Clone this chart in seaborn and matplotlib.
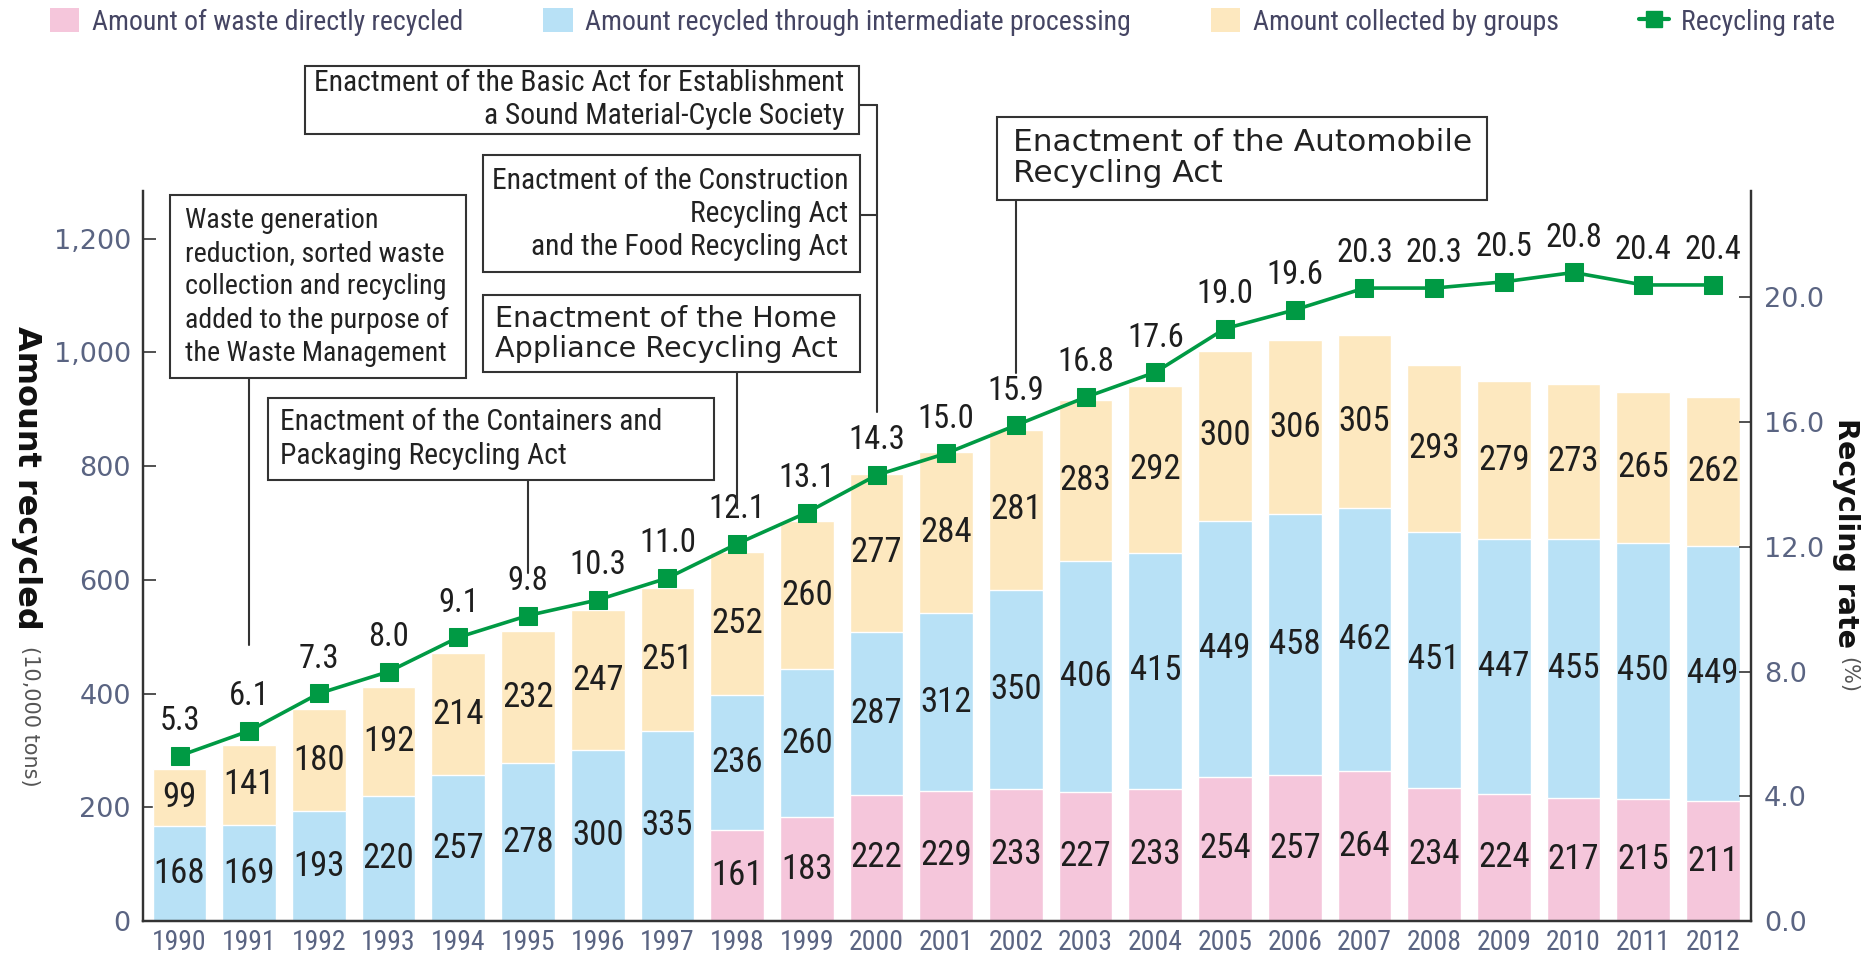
import numpy as np
import pandas as pd
import matplotlib
matplotlib.use("Agg")
import matplotlib.pyplot as plt
import matplotlib.transforms as mtransforms
from matplotlib import font_manager as fm
from matplotlib.patches import Patch, Rectangle
from matplotlib.lines import Line2D
import seaborn as sns

# --- data ---
years = [str(y) for y in range(1990, 2013)]
direct = [0, 0, 0, 0, 0, 0, 0, 0, 161, 183, 222, 229, 233, 227, 233, 254, 257, 264, 234, 224, 217, 215, 211]
intermediate = [168, 169, 193, 220, 257, 278, 300, 335, 236, 260, 287, 312, 350, 406, 415, 449, 458, 462, 451, 447, 455, 450, 449]
groups = [99, 141, 180, 192, 214, 232, 247, 251, 252, 260, 277, 284, 281, 283, 292, 300, 306, 305, 293, 279, 273, 265, 262]
rate = [5.3, 6.1, 7.3, 8.0, 9.1, 9.8, 10.3, 11.0, 12.1, 13.1, 14.3, 15.0, 15.9, 16.8, 17.6, 19.0, 19.6, 20.3, 20.3, 20.5, 20.8, 20.4, 20.4]

left_ticks = [0, 200, 400, 600, 800, 1000, 1200]
right_ticks = [0, 4, 8, 12, 16, 20]

PINK = "#f5c6db"
BLUE = "#b8e1f6"
BEIGE = "#fde8bf"
GREEN = "#009a44"
TICKC = "#5a6482"

sns.set_style("white")

names = {f.name for f in fm.fontManager.ttflist}
COND = None
for n in ["Roboto Condensed", "Liberation Sans Narrow", "Open Sans Condensed"]:
    if n in names:
        COND = n
        break
if COND is None:
    COND = "DejaVu Sans"
plt.rcParams["font.family"] = [COND, "DejaVu Sans"]
cond = dict(family=[COND, "DejaVu Sans"], stretch="condensed")

df = pd.DataFrame({"year": years, "direct": direct, "inter": intermediate, "groups": groups, "rate": rate})
df["lower2"] = df["direct"] + df["inter"]
df["total"] = df["lower2"] + df["groups"]
df["pos"] = np.arange(len(df))

fig = plt.figure(figsize=(18.73, 9.57), dpi=100)
ax = fig.add_axes([0.0765, 0.0375, 0.935 - 0.0765, 0.80 - 0.0375])

bw = 0.77
sns.barplot(data=df, x="year", y="total", color=BEIGE, width=bw, saturation=1, ax=ax)
sns.barplot(data=df, x="year", y="lower2", color=BLUE, width=bw, saturation=1, ax=ax)
sns.barplot(data=df, x="year", y="direct", color=PINK, width=bw, saturation=1, ax=ax)

# segment labels
for i, r in df.iterrows():
    segs = [(0, r["direct"]), (r["direct"], r["inter"]), (r["lower2"], r["groups"])]
    for base, h in segs:
        if h > 0:
            ax.text(i, base + h / 2, f"{int(h)}", ha="center", va="center",
                    fontsize=25, color="#1e1e1e", **cond)

ax.set_xlim(-0.52, len(years) - 1 + 0.55)
ax.set_ylim(0, 1283)
ax.set_yticks(left_ticks)
ax.set_yticklabels([f"{v:,}" for v in left_ticks], family="DejaVu Sans")
ax.set_xlabel("")
ax.set_ylabel("")
ax.tick_params(axis="y", direction="in", length=9, width=1.2, color="#333333",
               labelsize=19.5, labelcolor=TICKC, pad=9)
ax.tick_params(axis="x", length=0, labelsize=20, labelcolor=TICKC, pad=6)
for lab in ax.get_xticklabels():
    lab.set_fontstretch("condensed")

ax2 = ax.twinx()
sns.lineplot(data=df, x="pos", y="rate", color=GREEN, lw=2.6, marker="s",
             markersize=13, markeredgecolor=GREEN, ax=ax2)
for i, r in df.iterrows():
    ax2.annotate(f"{r['rate']:.1f}", (r["pos"], r["rate"]), xytext=(0, 25),
                 textcoords="offset points", ha="center", va="center",
                 fontsize=23.5, color="#1e1e1e", **cond)
ax2.set_ylim(0, 23.4)
ax2.set_yticks(right_ticks)
ax2.set_yticklabels([f"{v:.1f}" for v in right_ticks], family="DejaVu Sans")
ax2.set_ylabel("")
ax2.tick_params(axis="y", direction="in", length=9, width=1.2, color="#333333",
                labelsize=19.5, labelcolor=TICKC, pad=9)

for a in (ax, ax2):
    a.spines["top"].set_visible(False)
    for s in ("left", "right", "bottom"):
        a.spines[s].set_color("#333333")
        a.spines[s].set_linewidth(1.6)
ax.spines["bottom"].set_color("#111111")

# axis titles
fig.text(22 / 1568, 1 - 273 / 801, "Amount recycled", rotation=270, ha="center", va="top",
         fontsize=23, fontweight="bold", family="DejaVu Sans", color="#111111")
fig.text(25 / 1568, 1 - 541 / 801, "(10,000 tons)", rotation=270, ha="center", va="top",
         fontsize=15, color="#555555", family="DejaVu Sans")
fig.text(1545 / 1568, 1 - 350 / 801, "Recycling rate", rotation=270, ha="center", va="top",
         fontsize=20.5, fontweight="bold", family="DejaVu Sans", color="#111111")
fig.text(1547 / 1568, 1 - 550 / 801, "(%)", rotation=270, ha="center", va="top",
         fontsize=15, color="#555555", family="DejaVu Sans")

# legend
handles = [Patch(facecolor=PINK, edgecolor="none"), Patch(facecolor=BLUE, edgecolor="none"),
           Patch(facecolor=BEIGE, edgecolor="none"),
           Line2D([], [], color=GREEN, lw=3, marker="s", markersize=12)]
labels = ["Amount of waste directly recycled", "Amount recycled through intermediate processing",
          "Amount collected by groups", "Recycling rate"]
leg = fig.legend(handles, labels, ncol=4, loc="center", mode="expand",
                 bbox_to_anchor=(25 / 1873, 1 - 42 / 957, 1835 / 1873, 40 / 957),
                 frameon=False, handlelength=1.05, handleheight=0.95, handletextpad=0.45,
                 prop=dict(family=[COND, "DejaVu Sans"], stretch="condensed", size=20))
for t in leg.get_texts():
    t.set_color("#454563")

# annotation boxes (coordinates measured in the 1568x801 view)
def fx(x):
    return x / 1568

def fy(y):
    return 1 - y / 801

def box(l, t, r, b):
    fig.add_artist(Rectangle((fx(l), fy(b)), fx(r) - fx(l), fy(t) - fy(b), transform=fig.transFigure,
                             facecolor="white", edgecolor="#333333", lw=1.5, zorder=5))

def vline(idx, y0, y1):
    tr = mtransforms.blended_transform_factory(ax.transData, fig.transFigure)
    fig.add_artist(Line2D([idx, idx], [fy(y0), fy(y1)], transform=tr, color="#333333", lw=1.5, zorder=4))

def hline(x0, idx, y):
    tr = mtransforms.blended_transform_factory(ax.transData, fig.transFigure)
    x0d = ax.transData.inverted().transform(fig.transFigure.transform((fx(x0), 0)))[0]
    fig.add_artist(Line2D([x0d, idx], [fy(y), fy(y)], transform=tr, color="#333333", lw=1.5, zorder=4))

small = dict(fontsize=21.3, color="#222222", linespacing=1.24, zorder=6, **cond)

i2000 = years.index("2000")
box(255, 55, 719, 112)
fig.text(fx(707), fy(83.5), "Enactment of the Basic Act for Establishment\na Sound Material-Cycle Society",
         ha="right", va="center", multialignment="right", **small)
box(404, 130, 720, 228)
fig.text(fx(710), fy(179), "Enactment of the Construction\nRecycling Act\nand the Food Recycling Act",
         ha="right", va="center", multialignment="right", **small)
hline(719, i2000, 88)
hline(720, i2000, 180)
vline(i2000, 88, 345)

box(404, 247, 720, 311)
fig.text(fx(414), fy(279.5), "Enactment of the Home\nAppliance Recycling Act", ha="left", va="center",
         fontsize=20.6, color="#222222", linespacing=1.07, zorder=6, family="DejaVu Sans")
vline(years.index("1998"), 311, 425)

box(142, 163, 390, 316)
fig.text(fx(155), fy(240), "Waste generation\nreduction, sorted waste\ncollection and recycling\nadded to the purpose of\nthe Waste Management",
         ha="left", va="center", fontsize=20.2, color="#222222", linespacing=1.3, zorder=6, **cond)
vline(years.index("1991"), 316, 540)

box(224, 333, 598, 402)
fig.text(fx(234), fy(367.5), "Enactment of the Containers and\nPackaging Recycling Act", ha="left", va="center", **small)
vline(years.index("1995"), 402, 480)

box(835, 98, 1245, 167)
fig.text(fx(848), fy(132.5), "Enactment of the Automobile\nRecycling Act", ha="left", va="center",
         fontsize=22.5, color="#222222", linespacing=1.1, zorder=6, family="DejaVu Sans")
vline(years.index("2002"), 167, 312)

fig.savefig("out.png", dpi=100)
